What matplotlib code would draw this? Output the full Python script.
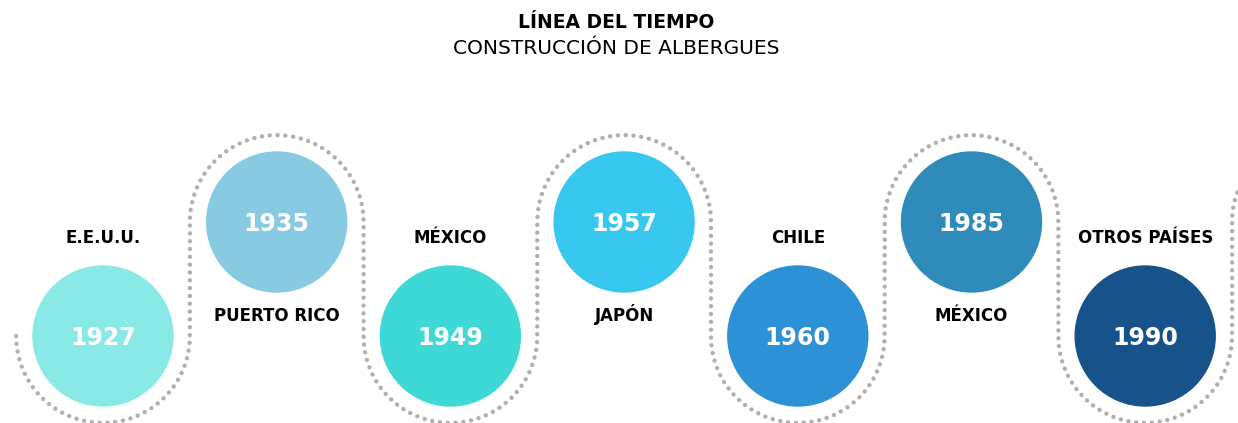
import numpy as np
import matplotlib.pyplot as plt

# timeline data
years = ['1927', '1935', '1949', '1957', '1960', '1985', '1990']
places = ['E.E.U.U.', 'PUERTO RICO', 'MÉXICO', 'JAPÓN', 'CHILE', 'MÉXICO', 'OTROS PAÍSES']
colors = ['#89E9E7', '#88CAE1', '#3ED9D6', '#38C8EF', '#2D91D5', '#2E8BBA', '#17538A']
upper = [False, True, False, True, False, True, False]

title = 'LÍNEA DEL TIEMPO'
subtitle = 'CONSTRUCCIÓN DE ALBERGUES'

# layout in pixel units (figure is 1238 x 423)
W, H = 1238, 423
x0, step = 103, 173.7
y_low, y_up = 336, 222
r_circle = 70
r_path = step / 2

fig = plt.figure(figsize=(W / 100, H / 100), dpi=100)
ax = fig.add_axes([0, 0, 1, 1])
ax.set_xlim(0, W)
ax.set_ylim(H, 0)
ax.set_aspect('equal')
ax.axis('off')

cx = x0 + step * np.arange(len(years))
cy = np.where(upper, y_up, y_low)

# serpentine dotted path: half arcs around each circle, plus one extra arc off the edge
px, py = [], []
t = np.linspace(0, np.pi, 80)
arc_x = list(cx) + [cx[-1] + step]
arc_up = list(upper) + [not upper[-1]]
for x, up in zip(arc_x, arc_up):
    yc = y_up if up else y_low
    px.extend(x - r_path * np.cos(t))
    if up:
        py.extend(yc - r_path * np.sin(t))
    else:
        py.extend(yc + r_path * np.sin(t))
ax.plot(px, py, color='#B0B0B0', lw=3.2, linestyle=(0, (0.01, 1.75)),
        dash_capstyle='round', zorder=1)

for i in range(len(years)):
    ax.add_patch(plt.Circle((cx[i], cy[i]), r_circle, color=colors[i], zorder=2))
    ax.text(cx[i], cy[i] + 9, years[i], color='white', fontsize=17,
            fontweight='bold', ha='center', va='baseline', zorder=3)
    if upper[i]:
        ax.text(cx[i], 321, places[i], fontsize=12, fontweight='bold',
                ha='center', va='baseline', color='black')
    else:
        ax.text(cx[i], 243, places[i], fontsize=12, fontweight='bold',
                ha='center', va='baseline', color='black')

ax.text(W / 2 - 3, 28, title, fontsize=13.5, fontweight='bold', ha='center', va='baseline')
ax.text(W / 2 - 3, 54, subtitle, fontsize=14.5, ha='center', va='baseline')

fig.savefig('out.png', dpi=100)
